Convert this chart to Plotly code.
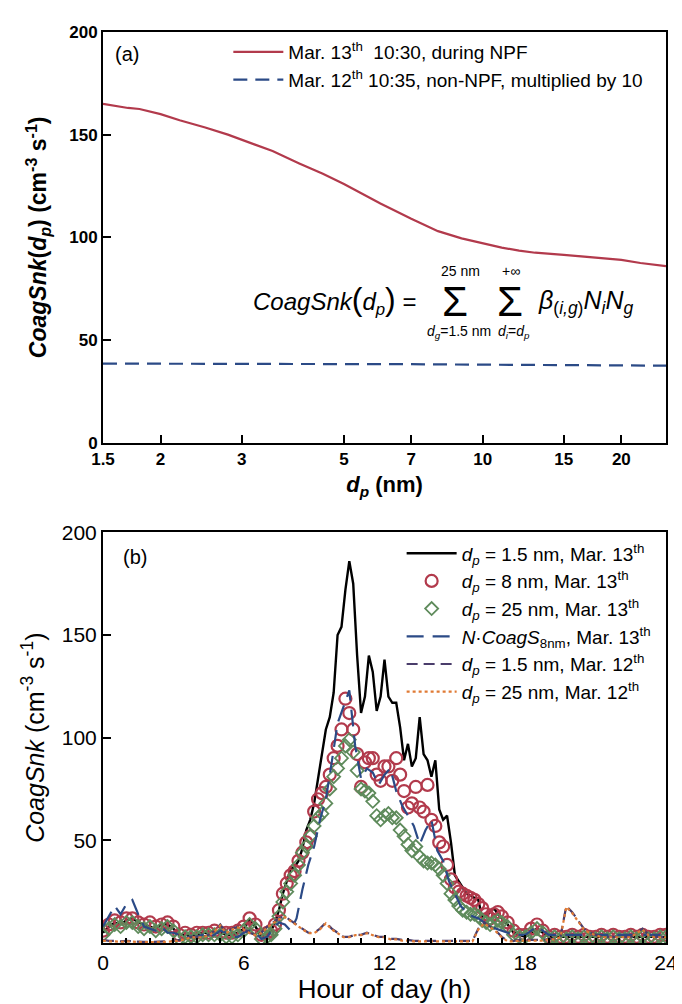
import plotly.graph_objects as go

# ---------------- Panel (a) data ----------------
dp_nm = [1.5, 1.6, 1.7, 1.8, 2.0, 2.2, 2.5, 2.8, 3.0, 3.5, 4.0, 4.5, 5.0, 5.5, 6.0,
         7.0, 8.0, 9.0, 10, 11, 12, 13, 15, 17, 20, 22, 25]
snk_mar13_npf = [165, 164, 163, 162.5, 160, 157, 153.5, 150, 147.5, 142, 136, 131, 126, 121,
                 116.5, 109, 103, 99.5, 97, 95, 93.5, 92.5, 91.5, 90.5, 89, 87.5, 86]
snk_mar12_x10 = [38.5, 38.5, 38.5, 38.5, 38.5, 38.5, 38.4, 38.4, 38.4, 38.4, 38.3, 38.3, 38.3,
                 38.2, 38.2, 38.2, 38.1, 38.0, 38.0, 37.9, 37.9, 37.8, 37.8, 37.7, 37.6, 37.6, 37.5]

# ---------------- Panel (b) data ----------------
# fine grid: 15-min before 07:00 and after 17:00, 10-min between 07:00 and 17:00
hours_fine = [i / 4 for i in range(28)] + [7 + i / 6 for i in range(60)] + [17 + i / 4 for i in range(29)]
# 15-min grid
hours_15 = [i / 4 for i in range(97)]

snk_1p5_mar13 = [5, 8, 10, 9, 11, 12, 10, 9, 8, 7, 9, 9, 7, 4, 4, 4,
                 4, 5, 5, 5, 5, 4, 4, 5, 7, 11, 8, 3,
                 5, 6, 10, 16, 24, 30,
                 36, 37, 40, 46, 55, 60,
                 68, 80, 92, 104, 110, 122,
                 150, 154, 172, 186, 175, 140,
                 112, 120, 140, 132, 113, 120,
                 138, 120, 117, 117, 105, 89,
                 97, 86, 90, 110, 92, 89,
                 81, 89, 65, 60, 62, 49,
                 33, 30, 27, 24, 23, 22,
                 21, 12, 13, 15, 17, 14,
                 12, 9, 5, 4, 3, 5, 7, 5, 3, 3, 3, 3, 3, 3, 3, 3,
                 3, 3, 3, 3, 3, 3, 3, 3, 3, 3, 3, 3, 3]
snk_8_mar13 = [6, 9, 11, 10, 12, 12, 10, 9, 10, 8, 9, 10, 8, 4, 5, 4,
               5, 5, 5, 6, 5, 5, 5, 6, 8, 12, 9, 4,
               5, 6, 9, 16, 24, 29,
               33, 35, 40, 44, 49, 52,
               64, 70, 73, 76, 82, 90,
               96, 104, 119, 112, 104, 92,
               76, 88, 90, 90, 82, 79,
               86, 86, 79, 90, 82, 74,
               66, 68, 76, 66, 64, 77,
               60, 57, 49, 47, 38, 31,
               27, 25, 24, 23, 22, 21,
               19, 17, 14, 12, 14, 15,
               13, 10, 6, 4, 4, 7, 9, 6, 3, 4, 3, 3, 4, 3, 4, 3,
               3, 4, 3, 4, 3, 3, 4, 3, 4, 3, 3, 4, 4]
snk_25_mar13 = [4, 7, 9, 8, 10, 10, 8, 7, 8, 6, 7, 8, 6, 2, 3, 3,
                3, 4, 4, 4, 4, 3, 3, 4, 6, 9, 7, 2,
                3, 4, 7, 13, 20, 25,
                29, 33, 38, 44, 47, 52,
                57, 61, 63, 68, 75, 81,
                85, 90, 96, 99, 93, 84,
                75, 74, 73, 69, 62, 60,
                62, 63, 61, 61, 55, 52,
                48, 45, 47, 42, 40, 39,
                39, 38, 36, 33, 29, 24,
                21, 18, 16, 15, 14, 14,
                13, 11, 10, 9, 10, 11,
                10, 8, 4, 3, 3, 5, 7, 5, 2, 3, 2, 2, 3, 2, 3, 2,
                2, 3, 2, 3, 2, 2, 3, 2, 3, 2, 2, 3, 3]
ncoags_8nm_mar13 = [8, 13, 18, 14, 19, 21, 14, 8, 7, 6, 8, 5, 5, 4, 3, 3,
                    3, 4, 3, 4, 6, 5, 3, 3, 5, 6, 5, 2, 3, 7, 10, 9,
                    6, 12, 26, 38, 47, 60, 70, 88, 107, 115, 123, 96, 80, 85, 83, 77,
                    82, 85, 74, 67, 62, 57, 48, 55, 60, 45, 40, 30, 24, 18, 15, 13,
                    12, 10, 8, 7, 6, 5, 4, 4, 4, 6, 8, 6, 4, 4, 4, 4,
                    4, 4, 4, 4, 4, 4, 4, 4, 4, 4, 4, 4, 4, 4, 4, 4, 4]
snk_1p5_mar12 = [1.5, 1, 1, 0.8, 1, 0.8, 0.5, 0.5, 0.5, 0.5, 0.5, 0.8, 1, 1.5, 2, 3,
                 3, 3, 4, 6, 9, 5, 7, 8, 7, 5, 4, 5, 8, 10, 12, 13,
                 11, 9, 7, 5, 5, 7, 10, 7, 5, 3, 3, 4, 4, 5, 4, 3,
                 3, 2, 2, 1.5, 1.5, 1, 1, 1, 1, 1, 1, 1, 1, 1, 1, 1,
                 7, 10, 8, 6, 3, 1, 1, 1.5, 1.5, 1.5, 1.5, 1.5, 2, 2, 3, 18,
                 15, 11, 7, 5, 4, 3, 3, 3, 3, 3, 3, 5, 7, 4, 3, 3, 3]
snk_25_mar12 = [1.2, 0.8, 0.8, 0.6, 0.8, 0.6, 0.4, 0.4, 0.4, 0.4, 0.4, 0.6, 0.8, 1.2, 1.8, 2.8,
                2.8, 2.8, 3.8, 5.6, 8.6, 4.8, 6.6, 7.6, 6.6, 4.8, 3.8, 4.8, 7.6, 9.6, 11.6, 12.6,
                10.6, 8.6, 6.6, 4.8, 4.8, 6.6, 9.6, 6.6, 4.8, 2.8, 2.8, 3.8, 3.8, 4.8, 3.8, 2.8,
                2.8, 1.8, 1.8, 1.2, 1.2, 0.8, 0.8, 0.8, 0.8, 0.8, 0.8, 0.8, 0.8, 0.8, 0.8, 0.8,
                6.6, 9.6, 7.6, 5.6, 2.8, 0.8, 0.8, 1.2, 1.2, 1.2, 1.2, 1.2, 1.8, 1.8, 2.8, 17.6,
                14.6, 10.6, 6.6, 4.8, 3.8, 2.8, 2.8, 2.8, 2.8, 2.8, 2.8, 4.8, 6.6, 3.8, 2.8, 2.8, 2.8]

# ---------------- styling ----------------
FONT = "Liberation Sans, Arial, sans-serif"
RED = "#b23a4c"
NAVY = "#2b4a86"
GREEN = "#5f8b5c"
PURPLE = "#4a3d6b"
ORANGE = "#e07a34"

W, H = 682, 1004
ML, MR, MT, MB = 95, 12, 21, 69
PW, PH = W - ML - MR, H - MT - MB


def px(x, y):
    return (x - ML) / PW, (H - MB - y) / PH


fig = go.Figure()

# panel (a)
fig.add_trace(go.Scatter(x=dp_nm, y=snk_mar13_npf, mode="lines", xaxis="x", yaxis="y",
                         line=dict(color=RED, width=2.2), legend="legend",
                         name="Mar. 13<sup>th</sup>  10:30, during NPF"))
fig.add_trace(go.Scatter(x=dp_nm, y=snk_mar12_x10, mode="lines", xaxis="x", yaxis="y",
                         line=dict(color=NAVY, width=2.2, dash="14px,8px"), legend="legend",
                         name="Mar. 12<sup>th</sup> 10:35, non-NPF, multiplied by 10"))

# panel (b)
fig.add_trace(go.Scatter(x=hours_fine, y=snk_1p5_mar13, mode="lines", xaxis="x2", yaxis="y2",
                         line=dict(color="black", width=2.4), legend="legend2",
                         name="<i>d<sub>p</sub></i> = 1.5 nm, Mar. 13<sup>th</sup>"))
fig.add_trace(go.Scatter(x=hours_fine, y=snk_8_mar13, mode="markers", xaxis="x2", yaxis="y2",
                         marker=dict(symbol="circle-open", size=12, color=RED, line=dict(width=2.2)),
                         legend="legend2",
                         name="<i>d<sub>p</sub></i> = 8 nm, Mar. 13<sup>th</sup>"))
fig.add_trace(go.Scatter(x=hours_fine, y=snk_25_mar13, mode="markers", xaxis="x2", yaxis="y2",
                         marker=dict(symbol="diamond-open", size=10, color=GREEN, line=dict(width=1.8)),
                         legend="legend2",
                         name="<i>d<sub>p</sub></i> = 25 nm, Mar. 13<sup>th</sup>"))
fig.add_trace(go.Scatter(x=hours_15, y=ncoags_8nm_mar13, mode="lines", xaxis="x2", yaxis="y2",
                         line=dict(color=NAVY, width=2.2, dash="17px,9px"), legend="legend2",
                         name="<i>N</i>·<i>CoagS</i><sub>8nm</sub>, Mar. 13<sup>th</sup>"))
fig.add_trace(go.Scatter(x=hours_15, y=snk_1p5_mar12, mode="lines", xaxis="x2", yaxis="y2",
                         line=dict(color=PURPLE, width=2.2, dash="11px,6px"), legend="legend2",
                         name="<i>d<sub>p</sub></i> = 1.5 nm, Mar. 12<sup>th</sup>"))
fig.add_trace(go.Scatter(x=hours_15, y=snk_25_mar12, mode="lines", xaxis="x2", yaxis="y2",
                         line=dict(color=ORANGE, width=2.2, dash="dot"), legend="legend2",
                         name="<i>d<sub>p</sub></i> = 25 nm, Mar. 12<sup>th</sup>"))

top_lo = (H - MB - 433) / PH
bot_hi = (H - MB - 523) / PH

axis_common = dict(showline=True, linecolor="black", linewidth=2, mirror=True,
                   showgrid=False, zeroline=False, ticks="inside", tickcolor="black")

fig.update_layout(
    width=W, height=H,
    margin=dict(l=ML, r=MR, t=MT, b=MB),
    paper_bgcolor="white", plot_bgcolor="white",
    font=dict(family=FONT, color="black"),
    xaxis=dict(**axis_common, type="log", domain=[0, 1], anchor="y",
               range=[0.17609, 1.39794], tickvals=[1.5, 2, 3, 5, 7, 10, 15, 20],
               ticktext=["<b>1.5</b>", "<b>2</b>", "<b>3</b>", "<b>5</b>", "<b>7</b>",
                         "<b>10</b>", "<b>15</b>", "<b>20</b>"],
               ticklen=8, tickwidth=2, tickfont=dict(size=17),
               title=dict(text="<b><i>d<sub>p</sub></i> (nm)</b>", font=dict(size=22), standoff=9)),
    yaxis=dict(**axis_common, domain=[top_lo, 1], anchor="x", range=[0, 200],
               tickvals=[0, 50, 100, 150, 200],
               ticktext=["<b>0</b>", "<b>50</b>", "<b>100</b>", "<b>150</b>", "<b>200</b>"],
               ticklen=8, tickwidth=2, tickfont=dict(size=17),
               title=dict(text="<b><i>CoagSnk</i>(<i>d<sub>p</sub></i>) (cm<sup>-3</sup> s<sup>-1</sup>)</b>",
                          font=dict(size=23), standoff=16)),
    xaxis2=dict(**axis_common, domain=[0, 1], anchor="y2", range=[0, 24],
                tickvals=[0, 6, 12, 18, 24], ticklen=8, tickwidth=2, tickfont=dict(size=21),
                minor=dict(dtick=1, ticks="inside", ticklen=5, tickwidth=1.5, tickcolor="black"),
                title=dict(text="Hour of day (h)", font=dict(size=26), standoff=2)),
    yaxis2=dict(**axis_common, domain=[0, bot_hi], anchor="x2", range=[0, 200],
                tickvals=[50, 100, 150, 200], ticklen=8, tickwidth=2, tickfont=dict(size=21),
                title=dict(text="<i>CoagSnk</i> (cm<sup>-3</sup> s<sup>-1</sup>)",
                           font=dict(size=25), standoff=10)),
    legend=dict(x=px(223, 0)[0], y=px(0, 22)[1], xanchor="left", yanchor="top",
                bgcolor="rgba(0,0,0,0)", font=dict(size=19), itemwidth=50, tracegroupgap=0),
    legend2=dict(x=px(400, 0)[0], y=px(0, 525)[1], xanchor="left", yanchor="top",
                 bgcolor="rgba(0,0,0,0)", font=dict(size=19), itemwidth=50, tracegroupgap=0),
    showlegend=True,
)

annots = []


def ann(text, x, y, size, xanchor="center"):
    xp, yp = px(x, y)
    annots.append(dict(text=text, x=xp, y=yp, xref="paper", yref="paper", showarrow=False,
                       xanchor=xanchor, yanchor="middle", font=dict(size=size, family=FONT, color="black")))


ann("(a)", 120, 43, 20)
ann("(b)", 128, 548, 20)
ann("<i>CoagSnk</i><span style='font-size:32px'>(</span><i>d<sub>p</sub></i>"
    "<span style='font-size:32px'>)</span> =", 246, 290, 24, "left")
ann("Σ", 455, 291, 42)
ann("25 nm", 460, 261, 14)
ann("<i>d<sub>g</sub></i>=1.5 nm", 459, 322, 14)
ann("Σ", 511, 291, 42)
ann("+∞", 512, 261, 14)
ann("<i>d<sub>i</sub></i>=<i>d<sub>p</sub></i>", 515, 322, 14)
ann("<i>β</i><sub>(<i>i,g</i>)</sub><i>N<sub>i</sub>N<sub>g</sub></i>", 537, 292, 25, "left")

fig.update_layout(annotations=annots)

fig.write_html("out.html")
